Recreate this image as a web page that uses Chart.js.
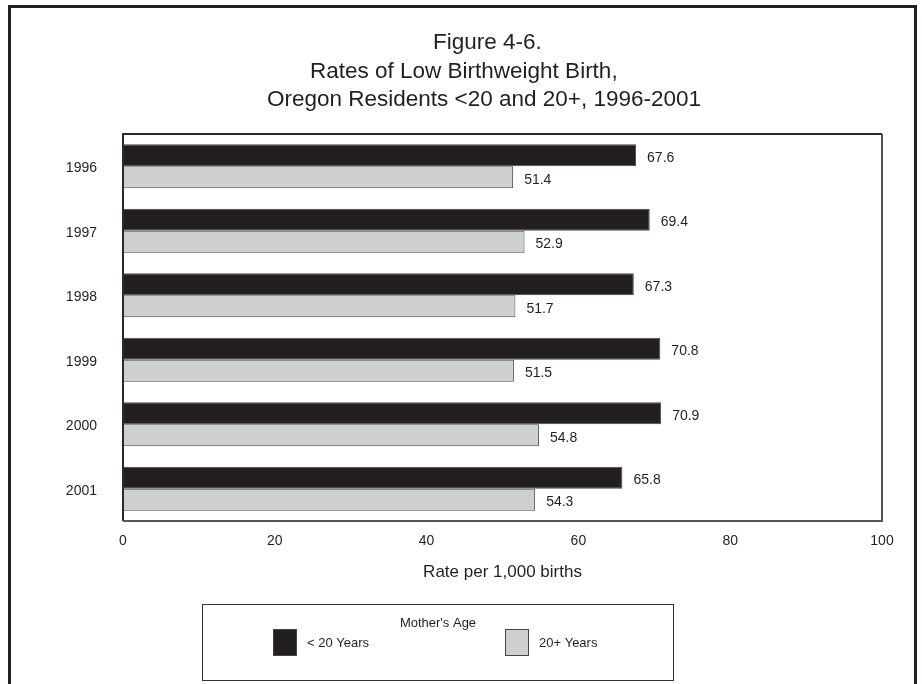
<!DOCTYPE html>
<html>
<head>
<meta charset="utf-8">
<style>
  html, body { margin: 0; padding: 0; background: #ffffff; }
  #wrap { width: 922px; height: 684px; position: relative; }
</style>
<script src="https://cdn.jsdelivr.net/npm/chart.js@4"></script>
</head>
<body>
<div id="wrap"><canvas id="chart" width="922" height="684"></canvas></div>
<script>
// Low birthweight rates per 1,000 births, Oregon residents by mother's age
const years = ['1996', '1997', '1998', '1999', '2000', '2001'];
const under20 = [67.6, 69.4, 67.3, 70.8, 70.9, 65.8];
const over20 = [51.4, 52.9, 51.7, 51.5, 54.8, 54.3];
const seriesNames = ['< 20 Years', '20+ Years'];
const titleLines = [
  'Figure 4-6.',
  'Rates of Low Birthweight Birth,',
  'Oregon Residents <20 and 20+, 1996-2001'
];
const xTicks = [0, 20, 40, 60, 80, 100];
const xAxisTitle = 'Rate per 1,000 births';
const legendTitle = "Mother's Age";

const FONT = "'Liberation Sans', Arial, Helvetica, sans-serif";
const INK = '#231f20';
const DARK = '#231f20';
const LIGHT = '#cdcfd1';

// Page frame, heading lines and plot-area box
const framePlugin = {
  id: 'frame',
  beforeDraw(chart) {
    const ctx = chart.ctx;
    ctx.save();
    ctx.fillStyle = '#ffffff';
    ctx.fillRect(0, 0, chart.width, chart.height);
    ctx.strokeStyle = INK;
    ctx.lineWidth = 3;
    ctx.strokeRect(9.5, 6.5, 906, 720);

    ctx.fillStyle = INK;
    ctx.font = '22.5px ' + FONT;
    ctx.textBaseline = 'alphabetic';
    ctx.textAlign = 'left';
    const starts = [433, 310, 267];
    const baselines = [49, 78, 106];
    titleLines.forEach((t, i) => ctx.fillText(t, starts[i], baselines[i]));
    ctx.restore();
  },
  afterDatasetsDraw(chart) {
    const {ctx, chartArea: a} = chart;
    ctx.save();
    ctx.lineWidth = 2;
    ctx.strokeStyle = '#2a2a2a';
    ctx.beginPath();
    ctx.moveTo(a.left, a.bottom);
    ctx.lineTo(a.left, a.top);
    ctx.lineTo(a.right, a.top);
    ctx.stroke();
    ctx.strokeStyle = '#555555';
    ctx.beginPath();
    ctx.moveTo(a.right, a.top);
    ctx.lineTo(a.right, a.bottom);
    ctx.lineTo(a.left, a.bottom);
    ctx.stroke();
    ctx.restore();
  }
};

// Value printed just past the end of every bar
const valueLabels = {
  id: 'valueLabels',
  afterDatasetsDraw(chart) {
    const ctx = chart.ctx;
    ctx.save();
    ctx.font = '14px ' + FONT;
    ctx.fillStyle = INK;
    ctx.textAlign = 'left';
    ctx.textBaseline = 'middle';
    chart.data.datasets.forEach((ds, di) => {
      chart.getDatasetMeta(di).data.forEach((bar, i) => {
        ctx.fillText(ds.data[i].toFixed(1), bar.x + 11, bar.y + 2.5);
      });
    });
    ctx.restore();
  }
};

// Boxed legend below the axis
const boxLegend = {
  id: 'boxLegend',
  afterDraw(chart) {
    const ctx = chart.ctx;
    ctx.save();
    ctx.strokeStyle = '#333333';
    ctx.lineWidth = 1;
    ctx.strokeRect(202.5, 604.5, 471, 76);
    ctx.fillStyle = INK;
    ctx.font = '13px ' + FONT;
    ctx.textAlign = 'center';
    ctx.textBaseline = 'middle';
    ctx.fillText(legendTitle, 438, 623);
    const swX = [273, 505];
    chart.data.datasets.forEach((ds, i) => {
      ctx.fillStyle = ds.backgroundColor;
      ctx.fillRect(swX[i], 629, 24, 27);
      ctx.strokeStyle = '#444444';
      ctx.strokeRect(swX[i] + 0.5, 629.5, 23, 26);
      ctx.fillStyle = INK;
      ctx.textAlign = 'left';
      ctx.fillText(ds.label, swX[i] + 34, 643);
    });
    ctx.restore();
  }
};

new Chart(document.getElementById('chart'), {
  type: 'bar',
  data: {
    labels: years,
    datasets: [
      {
        label: seriesNames[0],
        data: under20,
        backgroundColor: DARK,
        borderColor: '#4a4a4a',
        borderWidth: 1
      },
      {
        label: seriesNames[1],
        data: over20,
        backgroundColor: LIGHT,
        borderColor: '#4a4a4a',
        borderWidth: 1
      }
    ]
  },
  options: {
    indexAxis: 'y',
    responsive: false,
    animation: false,
    layout: { padding: { top: 134, right: 40, bottom: 101.8, left: 0 } },
    datasets: { bar: { categoryPercentage: 0.68, barPercentage: 1.0 } },
    plugins: {
      legend: { display: false },
      title: { display: false },
      tooltip: { enabled: false }
    },
    scales: {
      x: {
        min: xTicks[0],
        max: xTicks[xTicks.length - 1],
        afterBuildTicks(scale) { scale.ticks = xTicks.map(v => ({ value: v })); },
        grid: { display: false, drawTicks: false },
        border: { display: false },
        ticks: { font: { family: FONT, size: 14 }, color: INK, padding: 12 },
        title: {
          display: true,
          text: xAxisTitle,
          font: { family: FONT, size: 17 },
          color: INK,
          padding: { top: 0, bottom: 0 }
        }
      },
      y: {
        afterFit(scale) { scale.width = 123; },
        grid: { display: false, drawTicks: false },
        border: { display: false },
        ticks: { font: { family: FONT, size: 14 }, color: INK, padding: 26, labelOffset: 2 }
      }
    }
  },
  plugins: [framePlugin, valueLabels, boxLegend]
});
</script>
</body>
</html>
